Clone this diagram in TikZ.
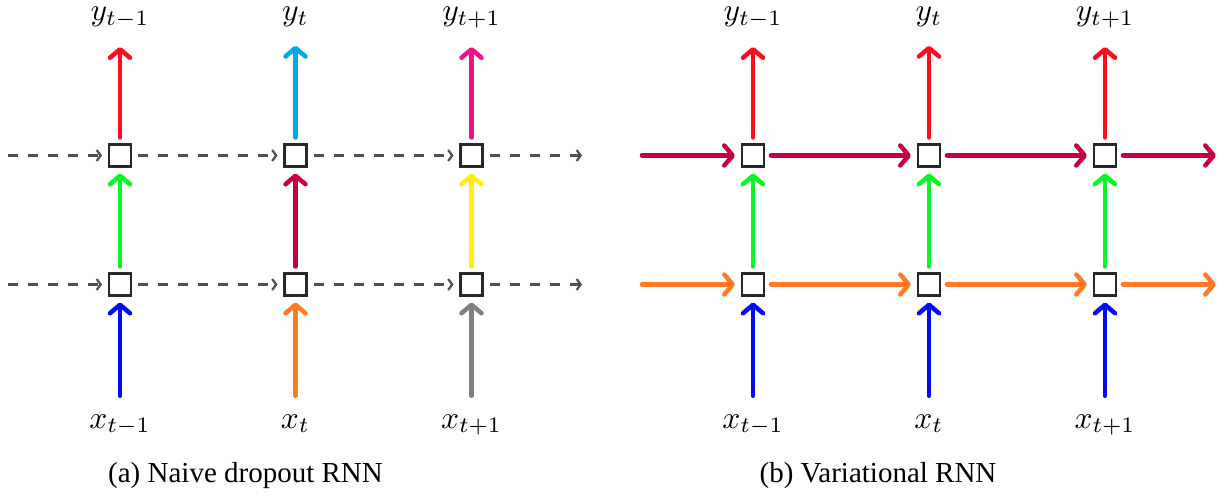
\documentclass[tikz,border=0pt]{standalone}
\usepackage{fontspec}
\newfontfamily\capfont{Liberation Serif}
\usetikzlibrary{arrows.meta}
\definecolor{cRed}{RGB}{252,12,32}
\definecolor{cCyan}{RGB}{0,168,232}
\definecolor{cPink}{RGB}{238,18,138}
\definecolor{cGreen}{RGB}{10,245,40}
\definecolor{cCrimson}{RGB}{196,0,62}
\definecolor{cYellow}{RGB}{255,238,20}
\definecolor{cBlue}{RGB}{0,10,250}
\definecolor{cOrange}{RGB}{255,122,36}
\definecolor{cGray}{RGB}{128,128,128}
\definecolor{boxgray}{RGB}{40,40,40}
\definecolor{dgray}{RGB}{80,80,80}
\tikzset{
  cell/.style={draw=boxgray, line width=2.2pt, minimum size=22pt, inner sep=0pt, outer sep=7pt, fill=white},
  lab/.style={inner sep=0pt, anchor=base, scale=3.15},
  captext/.style={inner sep=0pt, anchor=base, font=\capfont\fontsize{29}{34}\selectfont},
  flow/.style={line width=4.5pt, line cap=round, -{Straight Barb[length=8.5pt,width=20pt,round]}},
  outflow/.style={flow, shorten >=18pt},
  inflow/.style={flow, shorten <=18pt},
  dflow/.style={line width=2.2pt, draw=dgray, dash pattern=on 10pt off 10pt, -{Straight Barb[length=4pt,width=11pt]}},
}
\begin{document}
\begin{tikzpicture}[x=1pt,y=-1pt]
\useasboundingbox (0,0) rectangle (1219,497);
% ---------- panel (a) ----------
\foreach \c/\x in {1/120,2/295.5,3/471.5}{
  \node[cell] (aT\c) at (\x,155.5) {};
  \node[cell] (aB\c) at (\x,284.5) {};
}
\node[lab] (ay1) at (120,21) {$y_{t-1}$};
\node[lab] (ay2) at (295.5,21) {$y_{t}$};
\node[lab] (ay3) at (471.5,21) {$y_{t+1}$};
\node[lab] (ax1) at (120,428) {$x_{t-1}$};
\node[lab] (ax2) at (295.5,428) {$x_{t}$};
\node[lab] (ax3) at (471.5,428) {$x_{t+1}$};
\coordinate (aTin) at (8,155.5);
\coordinate (aBin) at (8,284.5);
\coordinate (aTout) at (582,155.5);
\coordinate (aBout) at (582,284.5);
\draw[outflow, draw=cRed] (aT1) -- (ay1);
\draw[outflow, draw=cCyan] (aT2) -- (ay2);
\draw[outflow, draw=cPink] (aT3) -- (ay3);
\draw[flow, draw=cGreen] (aB1) -- (aT1);
\draw[flow, draw=cCrimson] (aB2) -- (aT2);
\draw[flow, draw=cYellow] (aB3) -- (aT3);
\draw[inflow, draw=cBlue] (ax1) -- (aB1);
\draw[inflow, draw=cOrange] (ax2) -- (aB2);
\draw[inflow, draw=cGray] (ax3) -- (aB3);
\draw[dflow] (aTin) -- (aT1);
\draw[dflow] (aT1) -- (aT2);
\draw[dflow] (aT2) -- (aT3);
\draw[dflow] (aT3) -- (aTout);
\draw[dflow] (aBin) -- (aB1);
\draw[dflow] (aB1) -- (aB2);
\draw[dflow] (aB2) -- (aB3);
\draw[dflow] (aB3) -- (aBout);
\node[captext] (capa) at (245.5,482) {(a) Naive dropout RNN};
% ---------- panel (b) ----------
\foreach \c/\x in {1/753,2/929,3/1105}{
  \node[cell] (bT\c) at (\x,155.5) {};
  \node[cell] (bB\c) at (\x,284.5) {};
}
\node[lab] (by1) at (753,21) {$y_{t-1}$};
\node[lab] (by2) at (929,21) {$y_{t}$};
\node[lab] (by3) at (1105,21) {$y_{t+1}$};
\node[lab] (bx1) at (753,428) {$x_{t-1}$};
\node[lab] (bx2) at (929,428) {$x_{t}$};
\node[lab] (bx3) at (1105,428) {$x_{t+1}$};
\coordinate (bTin) at (642,155.5);
\coordinate (bBin) at (642,284.5);
\coordinate (bTout) at (1216,155.5);
\coordinate (bBout) at (1216,284.5);
\foreach \c in {1,2,3}{
  \draw[outflow, draw=cRed] (bT\c) -- (by\c);
  \draw[flow, draw=cGreen] (bB\c) -- (bT\c);
  \draw[inflow, draw=cBlue] (bx\c) -- (bB\c);
}
\draw[flow, draw=cCrimson] (bTin) -- (bT1);
\draw[flow, draw=cCrimson] (bT1) -- (bT2);
\draw[flow, draw=cCrimson] (bT2) -- (bT3);
\draw[flow, draw=cCrimson] (bT3) -- (bTout);
\draw[flow, draw=cOrange] (bBin) -- (bB1);
\draw[flow, draw=cOrange] (bB1) -- (bB2);
\draw[flow, draw=cOrange] (bB2) -- (bB3);
\draw[flow, draw=cOrange] (bB3) -- (bBout);
\node[captext] (capb) at (878,482) {(b) Variational RNN};
\end{tikzpicture}
\end{document}
